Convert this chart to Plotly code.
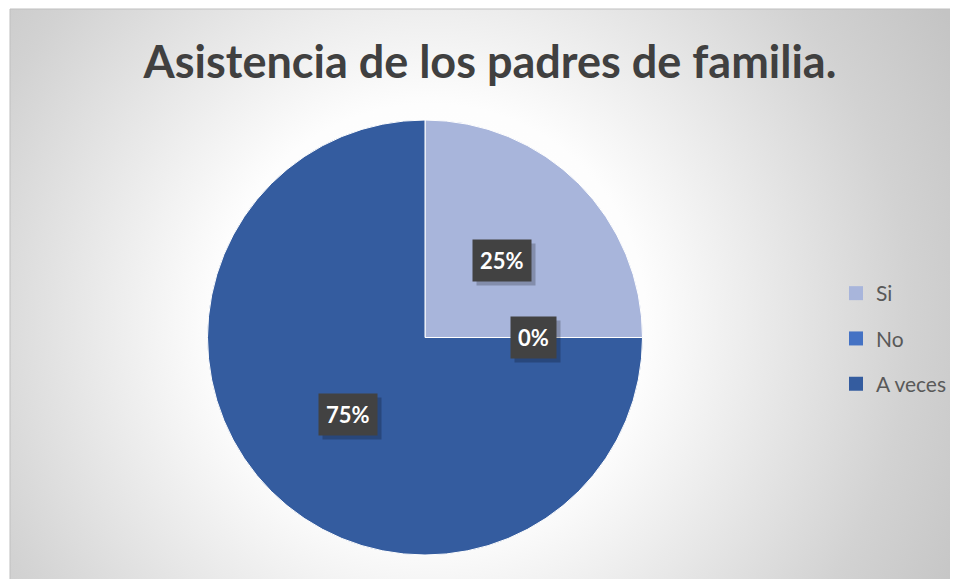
import base64, math
import plotly.graph_objects as go

# ---- data ----
categories = ["Si", "No", "A veces"]
values = [25, 0, 75]
colors = ["#A8B5DB", "#4472C4", "#345C9F"]
title_text = "Asistencia de los padres de familia."

W, H = 958, 579
OX, OY = 8, 8  # page body margin offset


def fx(x):
    return (x - OX) / W


def fy(y):
    return 1 - (y - OY) / H


# background gradient (radial, white centre to grey edges)
bx0, by0 = 10, 9
bw, bh = W - (bx0 - OX), H - (by0 - OY)
gcx, gcy = 430 - bx0, 320 - by0
svg = f'''<svg xmlns="http://www.w3.org/2000/svg" width="{bw}" height="{bh}" viewBox="0 0 {bw} {bh}">
<defs><radialGradient id="g" gradientUnits="userSpaceOnUse" cx="{gcx}" cy="{gcy}" r="600">
<stop offset="0" stop-color="#FFFFFF"/>
<stop offset="0.36" stop-color="#FDFDFD"/>
<stop offset="0.8" stop-color="#D2D2D2"/>
<stop offset="1" stop-color="#C4C4C4"/>
</radialGradient></defs>
<rect x="0" y="0" width="{bw}" height="{bh}" fill="url(#g)"/>
</svg>'''
src = "data:image/svg+xml;base64," + base64.b64encode(svg.encode()).decode()

# pie geometry (reference pixels)
cx, cy, R = 425, 337.5, 217.5
dom_x = [fx(cx - R), fx(cx + R)]
dom_y = [fy(cy + R), fy(cy - R)]

fig = go.Figure()
fig.add_trace(go.Pie(
    labels=categories, values=values, sort=False, direction="clockwise", rotation=0,
    marker=dict(colors=colors, line=dict(color="#FFFFFF", width=1)),
    textinfo="none", hoverinfo="label+percent", showlegend=False,
    domain=dict(x=dom_x, y=dom_y),
))

# legend entries via dummy traces
for c, col in zip(categories, colors):
    fig.add_trace(go.Scatter(x=[None], y=[None], mode="markers", name=c,
                             legendgroup=c,
                             marker=dict(symbol="square", size=14, color=col)))

# data labels at half radius along slice mid-angle
total = sum(values)
cum = 0
annotations = []
for v in values:
    frac = v / total
    theta = 2 * math.pi * (cum + frac / 2)
    cum += frac
    px = cx + 0.5 * R * math.sin(theta)
    py = cy - 0.5 * R * math.cos(theta)
    txt = f"{round(frac*100)}%"
    common = dict(x=fx(px), y=fy(py), xref="paper", yref="paper",
                  xanchor="center", yanchor="middle",
                  showarrow=False, borderpad=7)
    annotations.append(dict(text=txt, bgcolor="rgba(0,0,0,0.22)", xshift=4, yshift=-4,
                            font=dict(family="Lato", size=22, color="rgba(0,0,0,0)", weight="bold"),
                            **common))
    annotations.append(dict(text=txt, bgcolor="#424242",
                            font=dict(family="Lato", size=22, color="#FFFFFF", weight="bold"),
                            **common))

fig.update_layout(
    width=W, height=H,
    margin=dict(l=0, r=0, t=0, b=0),
    paper_bgcolor="#FFFFFF", plot_bgcolor="rgba(0,0,0,0)",
    xaxis=dict(visible=False), yaxis=dict(visible=False),
    images=[dict(source=src, xref="paper", yref="paper", x=fx(bx0), y=fy(by0),
                 sizex=bw / W, sizey=bh / H, sizing="stretch", layer="below",
                 xanchor="left", yanchor="top")],
    shapes=[dict(type="rect", xref="paper", yref="paper", x0=fx(bx0), y0=-0.01, x1=1.01, y1=fy(by0),
                 line=dict(color="#BFBFBF", width=1), fillcolor="rgba(0,0,0,0)", layer="below")],
    title=dict(text=title_text, x=fx(490), y=fy(62), xref="paper", yref="paper",
               xanchor="center", yanchor="middle",
               font=dict(family="Lato", size=45, color="#404040", weight="bold")),
    legend=dict(x=fx(836), y=fy(273), xanchor="left", yanchor="top",
                font=dict(family="Lato", size=21, color="#595959"),
                tracegroupgap=15, bgcolor="rgba(0,0,0,0)", itemclick=False),
    annotations=annotations,
)

fig.write_html("out.html")
